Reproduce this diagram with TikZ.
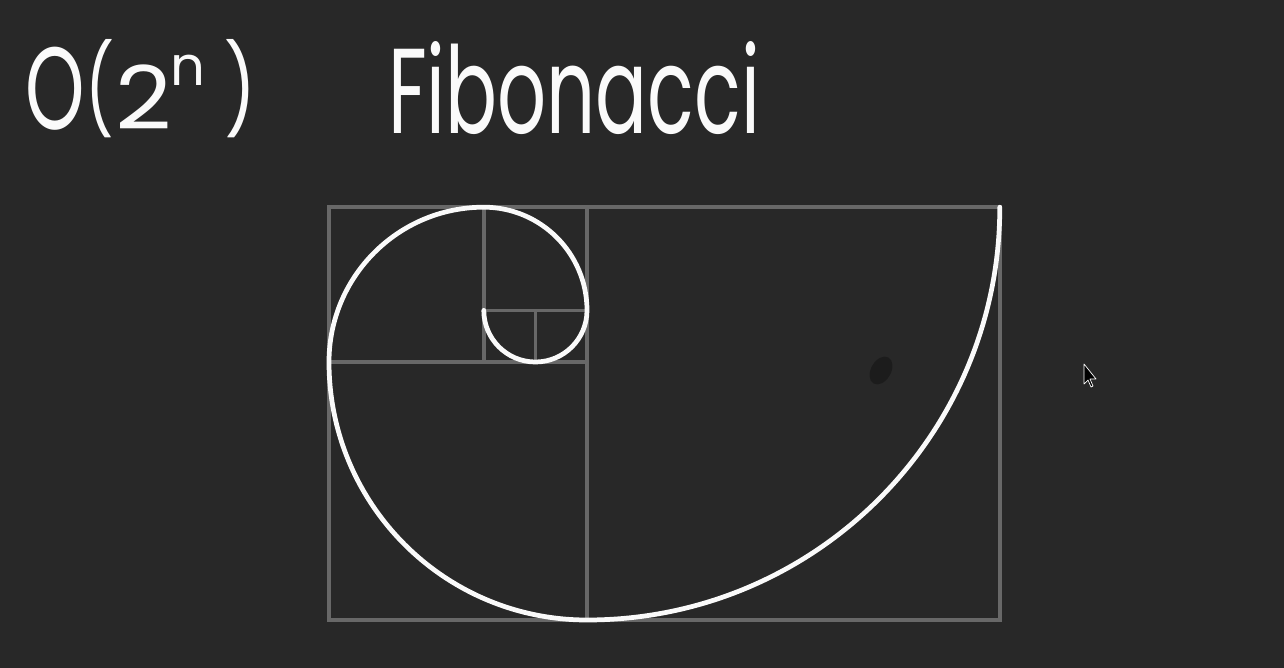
\documentclass[tikz,border=0pt]{standalone}
\usepackage{fontspec}
\newfontfamily\hand{Poppins}
\definecolor{board}{RGB}{40,40,40}
\definecolor{boarddark}{RGB}{24,24,24}
\definecolor{gridgray}{RGB}{104,104,104}
\definecolor{chalk}{RGB}{250,250,250}
\tikzset{
  gridline/.style={draw=gridgray, line width=2.1pt},
  spiral/.style={draw=chalk, line width=2.7pt},
  handtext/.style={inner sep=0pt, outer sep=0pt, text=chalk, font=\hand\fontsize{50}{50}\selectfont, anchor=base west},
}
\begin{document}
\begin{tikzpicture}
% board (1px = 0.02cm)
\fill[board] (0,0) rectangle (25.68,13.36);
\useasboundingbox (0,0) rectangle (25.68,13.36);
\fill[boarddark, opacity=0.7, rotate around={-30:(17.62,5.95)}] (17.62,5.95) ellipse (0.2 and 0.3);
% O(2^n) as one text, each glyph in a box of fixed width
\node[handtext] (bigo) at (0.52,10.76) {%
  \makebox[1.18cm][l]{\scalebox{0.86}[1.33]{O}}%
  \makebox[0.62cm][l]{\raisebox{0.1em}{\scalebox{0.72}[1]{(}}}%
  \makebox[1.10cm][l]{\scalebox{1.12}[1]{2}}%
  \makebox[1.08cm][l]{\raisebox{0.88cm}{\scalebox{0.62}{n}}}%
  \raisebox{0.1em}{\scalebox{0.8}[1]{)}}};
% Fibonacci
\node[handtext, anchor=south west] (fib) at (7.76,10.66) {\resizebox{7.44cm}{1.84cm}{Fibonacci}};
% golden rectangle grid
\begin{scope}[shift={(6.58,0.96)}, x=1.032cm, y=1.032cm]
  \draw[gridline] (0,0) rectangle (13,8);
  \draw[gridline] (5,0) -- (5,8);
  \draw[gridline] (0,5) -- (5,5);
  \draw[gridline] (3,5) -- (3,8);
  \draw[gridline] (3,6) -- (5,6);
  \draw[gridline] (4,5) -- (4,6);
  \draw[spiral, line cap=round]
    (3,6) arc[start angle=180, end angle=360, radius=1]
          arc[start angle=0, end angle=90, radius=2]
          arc[start angle=90, end angle=180, radius=3]
          arc[start angle=180, end angle=270, radius=5]
          arc[start angle=270, end angle=360, radius=8];
\end{scope}
% mouse cursor
\draw[fill=black, draw=white, line width=0.4pt, line join=round]
  (21.68,6.08) -- (21.68,5.68) -- (21.76,5.76) -- (21.82,5.62) -- (21.86,5.64)
  -- (21.80,5.78) -- (21.92,5.78) -- cycle;
\end{tikzpicture}
\end{document}
